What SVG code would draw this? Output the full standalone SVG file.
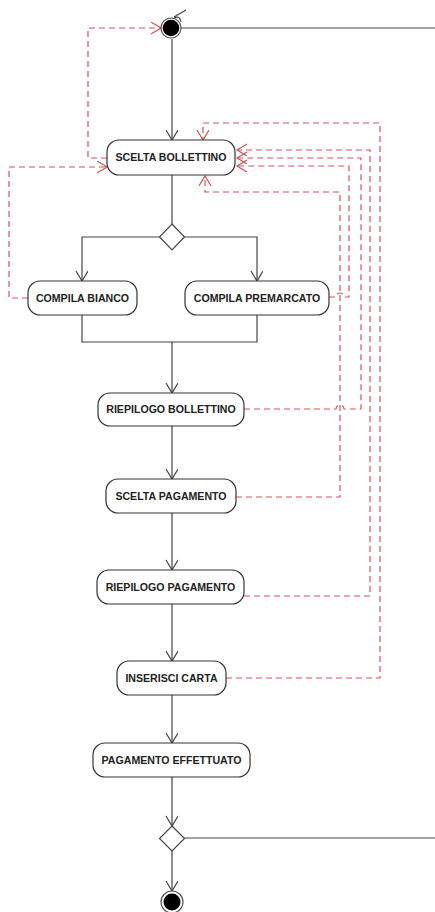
<svg xmlns="http://www.w3.org/2000/svg" width="435" height="912" viewBox="0 0 435 912">
<defs>
<style>
.node rect{fill:#fff;stroke:#333;stroke-width:1.2}
.node text{font-family:"Liberation Sans",Arial,sans-serif;font-weight:bold;font-size:10.6px;fill:#222;text-anchor:middle}
.flow{fill:none;stroke:#444;stroke-width:1.2}
.dep{fill:none;stroke:#d8505a;stroke-width:1.2;stroke-dasharray:6,4}
.dia{fill:#fff;stroke:#444;stroke-width:1.2}
</style>
<marker id="arr" markerUnits="userSpaceOnUse" markerWidth="14" markerHeight="14" refX="11" refY="6" orient="auto">
<path d="M1,0 L11,6 L1,12" fill="none" stroke="#444" stroke-width="1.2"/>
</marker>
<marker id="arrd" markerUnits="userSpaceOnUse" markerWidth="14" markerHeight="14" refX="11" refY="6" orient="auto">
<path d="M1,0 L11,6 L1,12" fill="none" stroke="#d8505a" stroke-width="1.2" stroke-dasharray="none"/>
</marker>
</defs>
<rect width="435" height="912" fill="#fff"/>

<g id="connectors">
<!-- solid control flow -->
<path class="flow" d="M180,28 H435"/>
<path class="flow" d="M172,39 V140" marker-end="url(#arr)"/>
<path class="flow" d="M172,175 V224"/>
<path class="flow" d="M159.5,237 H82 V281" marker-end="url(#arr)"/>
<path class="flow" d="M184.5,237 H257 V281" marker-end="url(#arr)"/>
<path class="flow" d="M82,315 V342 H257 V315"/>
<path class="flow" d="M172,342 V393" marker-end="url(#arr)"/>
<path class="flow" d="M172,426 V479" marker-end="url(#arr)"/>
<path class="flow" d="M172,513 V570" marker-end="url(#arr)"/>
<path class="flow" d="M172,604 V661" marker-end="url(#arr)"/>
<path class="flow" d="M172,695 V743" marker-end="url(#arr)"/>
<path class="flow" d="M172,777 V826" marker-end="url(#arr)"/>
<path class="flow" d="M184.5,838 H435"/>
<path class="flow" d="M172,851 V891" marker-end="url(#arr)"/>
<path class="flow" d="M174,17 L186,10 M174,18 Q180,15 181,22"/>
<!-- dashed dependencies -->
<path class="dep" d="M107,158 H88 V28 H161" marker-end="url(#arrd)"/>
<path class="dep" d="M28,298 H9 V167 H107" marker-end="url(#arrd)"/>
<path class="dep" d="M329,297 H336 A4,4 0 0 1 344,297 H349 V166 H237" marker-end="url(#arrd)"/>
<path class="dep" d="M244,409 H336 A4,4 0 0 1 344,409 H361 V158 H237" marker-end="url(#arrd)"/>
<path class="dep" d="M236,497 H340 V192 H205 V176" marker-end="url(#arrd)"/>
<path class="dep" d="M244,596 H370 V150 H237" marker-end="url(#arrd)"/>
<path class="dep" d="M226,678 H380 V123 H203 V140" marker-end="url(#arrd)"/>
</g>

<g id="start">
<circle cx="171" cy="28" r="10" fill="#fff" stroke="#555" stroke-width="1.2"/>
<circle cx="171" cy="28" r="8.3" fill="#000"/>
</g>

<g id="scelta-bollettino" class="node">
<rect x="107" y="140" width="128" height="35" rx="12"/>
<text x="171" y="161">SCELTA BOLLETTINO</text>
</g>

<g id="decision1">
<path class="dia" d="M172,224 L184.5,237 L172,250 L159.5,237 Z"/>
</g>

<g id="compila-bianco" class="node">
<rect x="28" y="281" width="109" height="34" rx="12"/>
<text x="82.5" y="302">COMPILA BIANCO</text>
</g>

<g id="compila-premarcato" class="node">
<rect x="185" y="281" width="144" height="34" rx="12"/>
<text x="257" y="302">COMPILA PREMARCATO</text>
</g>

<g id="riepilogo-bollettino" class="node">
<rect x="98" y="393" width="146" height="33" rx="12"/>
<text x="171" y="413">RIEPILOGO BOLLETTINO</text>
</g>

<g id="scelta-pagamento" class="node">
<rect x="106" y="479" width="130" height="34" rx="12"/>
<text x="171" y="500">SCELTA PAGAMENTO</text>
</g>

<g id="riepilogo-pagamento" class="node">
<rect x="97" y="570" width="147" height="34" rx="12"/>
<text x="170.5" y="591">RIEPILOGO PAGAMENTO</text>
</g>

<g id="inserisci-carta" class="node">
<rect x="117" y="661" width="109" height="34" rx="12"/>
<text x="171.5" y="682">INSERISCI CARTA</text>
</g>

<g id="pagamento-effettuato" class="node">
<rect x="93" y="743" width="157" height="34" rx="12"/>
<text x="171.5" y="764">PAGAMENTO EFFETTUATO</text>
</g>

<g id="decision2">
<path class="dia" d="M172,826 L184.5,838.5 L172,851 L159.5,838.5 Z"/>
</g>

<g id="end">
<circle cx="172" cy="902" r="11" fill="#fff" stroke="#555" stroke-width="1.2"/>
<circle cx="172" cy="902" r="8.5" fill="#000"/>
</g>
</svg>
